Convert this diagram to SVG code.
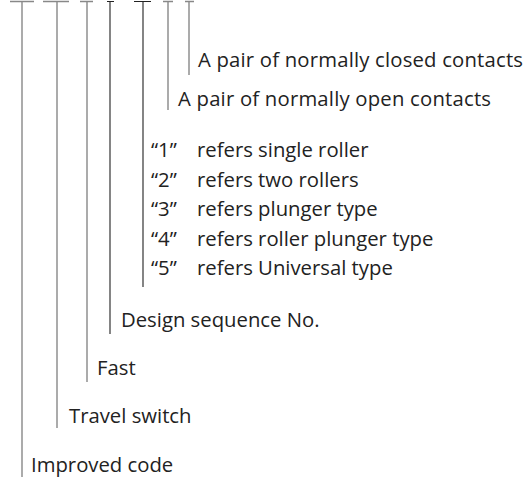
<svg xmlns="http://www.w3.org/2000/svg" width="530" height="480" viewBox="0 0 530 480">
<style>
text{font-family:"Open Sans","Noto Sans","Liberation Sans",sans-serif;font-size:20.3px;fill:#222}
.g{stroke:#888;stroke-width:1.4;fill:none}
.k{stroke:#222;stroke-width:1.1;fill:none}
</style>
<rect width="530" height="480" fill="#fff"/>
<g id="connectors">
<path class="g" d="M10 1.5H34M22 1.5V477"/>
<path class="g" d="M43 1.5H69M57 1.5V428"/>
<path class="g" d="M80 1.5H93M87 1.5V382"/>
<path class="k" d="M107 1.5H114M110 1.5V334"/>
<path class="k" d="M134 1.5H151M143 1.5V287"/>
<path class="g" d="M163 1.5H173M168 1.5V110"/>
<path class="g" d="M185 1.5H194M189 1.5V75"/>
</g>
<g id="n-closed"><text x="198" y="67" textLength="325">A pair of normally closed contacts</text></g>
<g id="n-open"><text x="178" y="106" textLength="313">A pair of normally open contacts</text></g>
<g id="n-types">
<text x="151" y="157">“1”</text><text x="197" y="157">refers single roller</text>
<text x="151" y="187">“2”</text><text x="197" y="187">refers two rollers</text>
<text x="151" y="216">“3”</text><text x="197" y="216">refers plunger type</text>
<text x="151" y="246">“4”</text><text x="197" y="246">refers roller plunger type</text>
<text x="151" y="275">“5”</text><text x="197" y="275">refers Universal type</text>
</g>
<g id="n-design"><text x="121" y="327">Design sequence No.</text></g>
<g id="n-fast"><text x="97" y="375">Fast</text></g>
<g id="n-travel"><text x="69" y="423">Travel switch</text></g>
<g id="n-improved"><text x="31" y="472">Improved code</text></g>
</svg>
